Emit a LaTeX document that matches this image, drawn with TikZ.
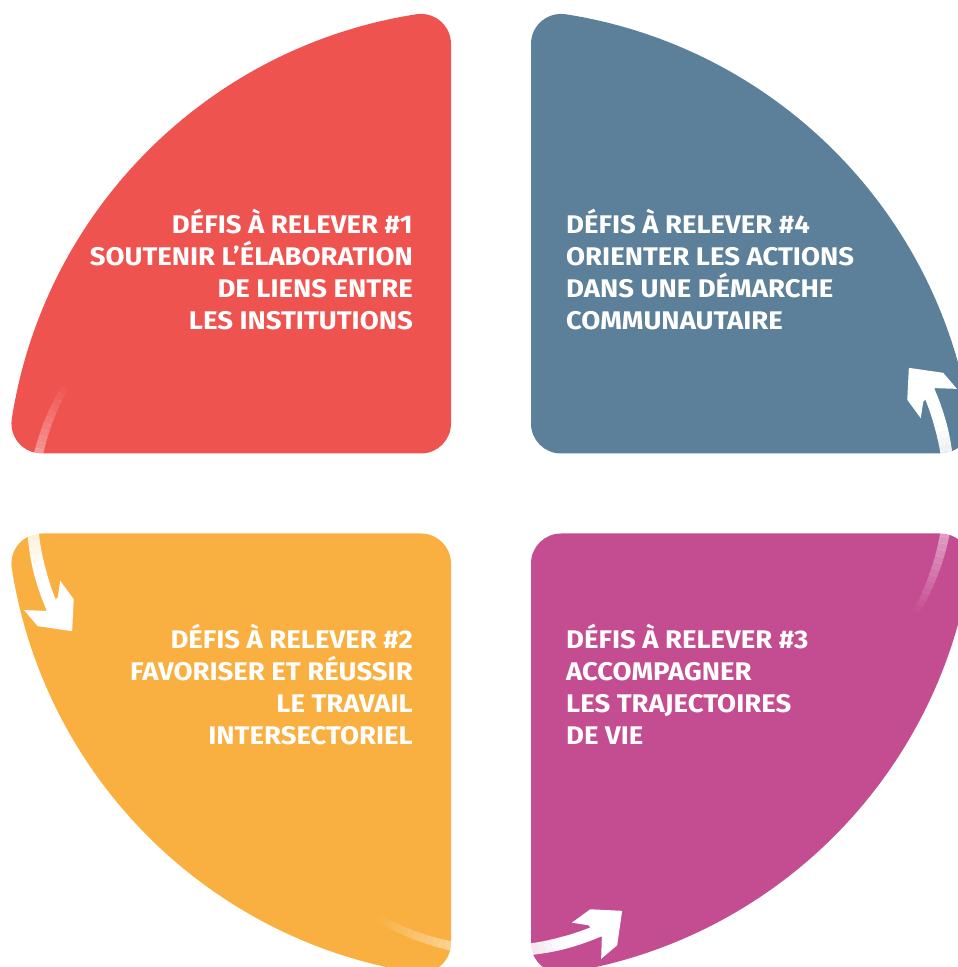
\documentclass[tikz,border=0pt]{standalone}
\usepackage{fontspec}
\setmainfont{Fira Sans}[FakeStretch=1.08]
\usetikzlibrary{calc}
\definecolor{cRed}{HTML}{EF5350}
\definecolor{cBlue}{HTML}{5C8099}
\definecolor{cYellow}{HTML}{F9B040}
\definecolor{cPink}{HTML}{C44C91}
\newcommand\drawcyclearrow{%
  \begin{scope}[shift={(501,261)}]
    \foreach \i in {0,...,29}{
      \pgfmathsetmacro\ang{238.5+1.55*\i}
      \pgfmathsetmacro\op{\i/29}
      \pgfmathsetmacro\lw{7+5.5*\i/29}
      \draw[white, line width=\lw, opacity=\op] (\ang:245) arc[start angle=\ang, delta angle=1.6, radius=245];
    }
    \draw[white, line width=12.5] (285:245) arc[start angle=285, end angle=294, radius=245];
    \fill[white] (288.1:228) -- (293.7:222) -- (300.6:238) -- (295.9:266)
      -- (291.6:272) -- (293.6:252) -- (291.7:236) -- cycle;
  \end{scope}%
}
\tikzset{
  quadshape/.style={insert path={(-449.6,40) -- (-70,40)
      arc[start angle=270,end angle=360,radius=30] -- (-40,449.6)
      arc[start angle=0,end angle=98.85,radius=30]
      arc[start angle=98.85,end angle=171.15,radius=485]
      arc[start angle=171.15,end angle=270,radius=30] -- cycle}},
  txt/.style={text=white, font=\fontsize{25.5}{32.3}\selectfont\bfseries, inner sep=0pt}
}
\begin{document}
\begin{tikzpicture}[x=1pt,y=1pt]
  \useasboundingbox (0,0) rectangle (958,967);
  \clip (0,0) rectangle (958,967);
  % quadrants
  \begin{scope}[shift={(491,473.5)}]
    \fill[cRed, quadshape];
  \end{scope}
  \begin{scope}[shift={(491,473.5)}, xscale=-1]
    \fill[cBlue, quadshape];
  \end{scope}
  \begin{scope}[shift={(491,473.5)}, yscale=-1]
    \fill[cYellow, quadshape];
  \end{scope}
  \begin{scope}[shift={(491,473.5)}, xscale=-1, yscale=-1]
    \fill[cPink, quadshape];
  \end{scope}
  % arrows
  \drawcyclearrow
  \begin{scope}[rotate around={90:(494,471)}]
    \drawcyclearrow
  \end{scope}
  \begin{scope}[shift={(-7,-7)}, rotate around={-90:(494,471)}]
    \drawcyclearrow
  \end{scope}
  % texts
  \node[txt, anchor=base east, align=right] (t1) at (413,637)
    {DÉFIS À RELEVER \#1\\SOUTENIR L’ÉLABORATION\\DE LIENS ENTRE\\LES INSTITUTIONS};
  \node[txt, anchor=base west, align=left] (t4) at (566,637)
    {DÉFIS À RELEVER \#4\\ORIENTER LES ACTIONS\\DANS UNE DÉMARCHE\\COMMUNAUTAIRE};
  \node[txt, anchor=base east, align=right] (t2) at (413,222)
    {DÉFIS À RELEVER \#2\\FAVORISER ET RÉUSSIR\\LE TRAVAIL\\INTERSECTORIEL};
  \node[txt, anchor=base west, align=left] (t3) at (566,222)
    {DÉFIS À RELEVER \#3\\ACCOMPAGNER\\LES TRAJECTOIRES\\DE VIE};
\end{tikzpicture}
\end{document}
